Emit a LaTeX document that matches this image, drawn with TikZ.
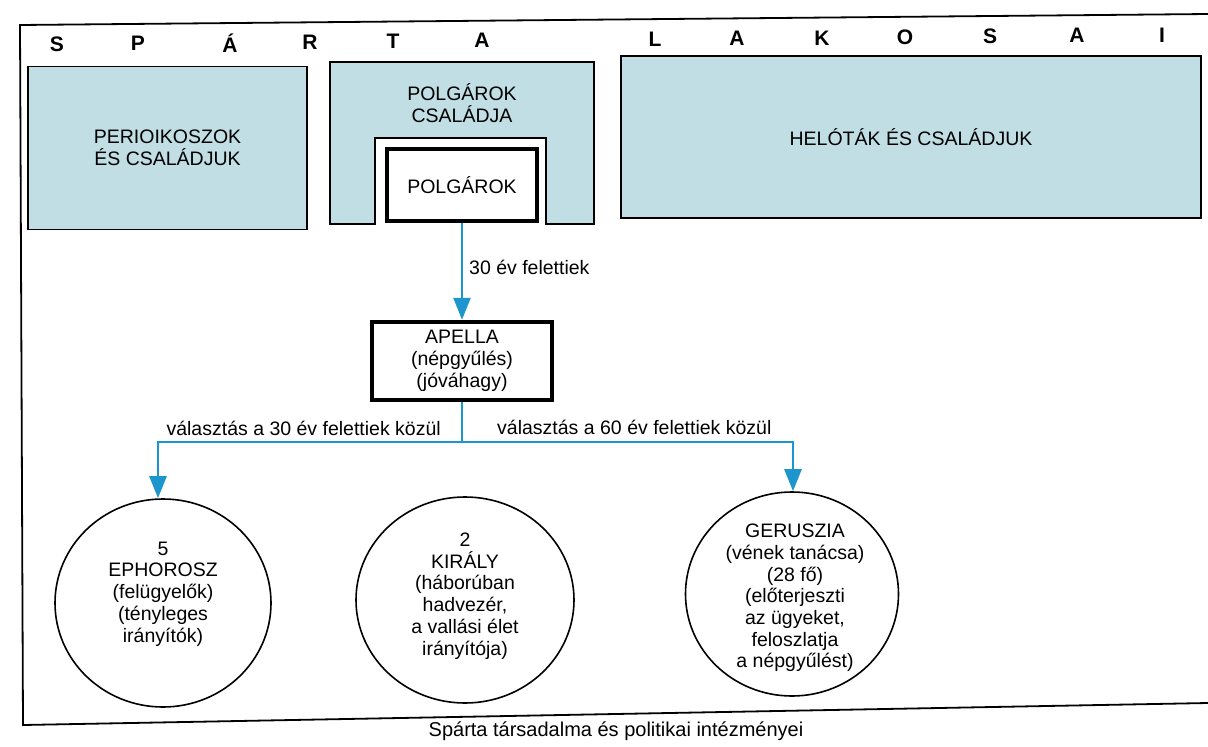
\documentclass[tikz,border=0pt]{standalone}
\usepackage{fontspec}
\setmainfont{Liberation Sans}
\usetikzlibrary{arrows.meta,shapes.geometric}
\definecolor{boxblue}{RGB}{192,222,228}
\definecolor{arrowblue}{RGB}{28,150,205}
\begin{document}
\begin{tikzpicture}[x=1pt,y=-1pt,
  txt/.style={font=\fontsize{19.5}{21.7}\selectfont, align=center, inner sep=0pt},
  letter/.style={font=\fontsize{21}{21}\selectfont\bfseries, inner sep=0pt},
  bluebox/.style={draw=black, line width=1.6pt, fill=boxblue},
  thickbox/.style={draw=black, line width=4.5pt, fill=white, inner sep=0pt},
  conn/.style={draw=arrowblue, line width=2.6pt},
  arr/.style={conn, -{Triangle[width=17pt,length=22pt]}},
  circ/.style={ellipse, draw=black, line width=1.6pt, inner sep=0pt},
  frameline/.style={draw=black, line width=1.8pt}
]
\useasboundingbox (0,0) rectangle (1208,747);
\fill[white] (0,0) rectangle (1208,747);

% frame
\coordinate (ftr) at (1208,14);
\coordinate (ftl) at (20,25);
\coordinate (fbl) at (23,725);
\coordinate (fbr) at (1208,703);
\draw[frameline] (ftr) -- (ftl) -- (fbl) -- (fbr);

% heading letters
\foreach \ch/\px/\py [count=\i] in {S/57/44, P/138/43, Á/230/43, R/310/42, T/393/41, A/482/40, L/655/39, A/737/38, K/822/38, O/905/37, S/990/36, A/1077/35, I/1162/35}
  \node[letter] (let\i) at (\px,\py) {\ch};

% box 1
\node[bluebox, txt, minimum width=279pt, minimum height=163pt] (peri) at (167.5,148) {PERIOIKOSZOK\\ÉS CSALÁDJUK};

% box 2 (notched)
\draw[bluebox] (330,62) -- (594,62) -- (594,224) -- (546,224) -- (546,138) -- (375,138) -- (375,224) -- (330,224) -- cycle;
\node[txt] (csal) at (462,103) {POLGÁROK\\CSALÁDJA};
\node[thickbox, txt, minimum width=150pt, minimum height=72pt] (polg) at (462,185) {POLGÁROK};

% box 3
\node[bluebox, txt, minimum width=580pt, minimum height=162pt] (helo) at (911,137) {HELÓTÁK ÉS CSALÁDJUK};

% APELLA
\node[thickbox, txt, minimum width=180pt, minimum height=78pt] (apella) at (462,361) {APELLA\\(népgyűlés)\\(jóváhagy)};

\draw[arr] (polg.south) -- (apella.north);
\node[txt, anchor=west] (l30) at (469,267) {30 év felettiek};

% circles
\node[circ, minimum width=216pt, minimum height=208pt] (eph) at (163,603) {};
\node[circ, minimum width=218pt, minimum height=206pt] (kir) at (465,600) {};
\node[circ, minimum width=213pt, minimum height=204pt] (ger) at (792,594) {};
\node[txt] (ephT) at (163,594) {5\\EPHOROSZ\\(felügyelők)\\(tényleges\\irányítók)};
\node[txt] (kirT) at (465,596) {2\\KIRÁLY\\(háborúban\\hadvezér,\\a vallási élet\\irányítója)};
\node[txt] (gerT) at (795,598) {GERUSZIA\\(vének tanácsa)\\(28 fő)\\(előterjeszti\\az ügyeket,\\feloszlatja\\a népgyűlést)};

% connectors from APELLA
\coordinate (j) at (462,442);
\coordinate (jl) at (158,442);
\coordinate (jr) at (793,442);
\draw[conn] (apella.south) -- (j);
\draw[arr] (j) -- (jl) -- (jl |- eph.north);
\draw[arr] (j) -- (jr) -- (jr |- ger.north);
\node[txt, anchor=east] (v30) at (441,428) {választás a 30 év felettiek közül};
\node[txt, anchor=west] (v60) at (497,427) {választás a 60 év felettiek közül};

% caption
\node[font=\fontsize{20}{24}\selectfont, inner sep=0pt] (cap) at (616,731) {Spárta társadalma és politikai intézményei};
\end{tikzpicture}
\end{document}
